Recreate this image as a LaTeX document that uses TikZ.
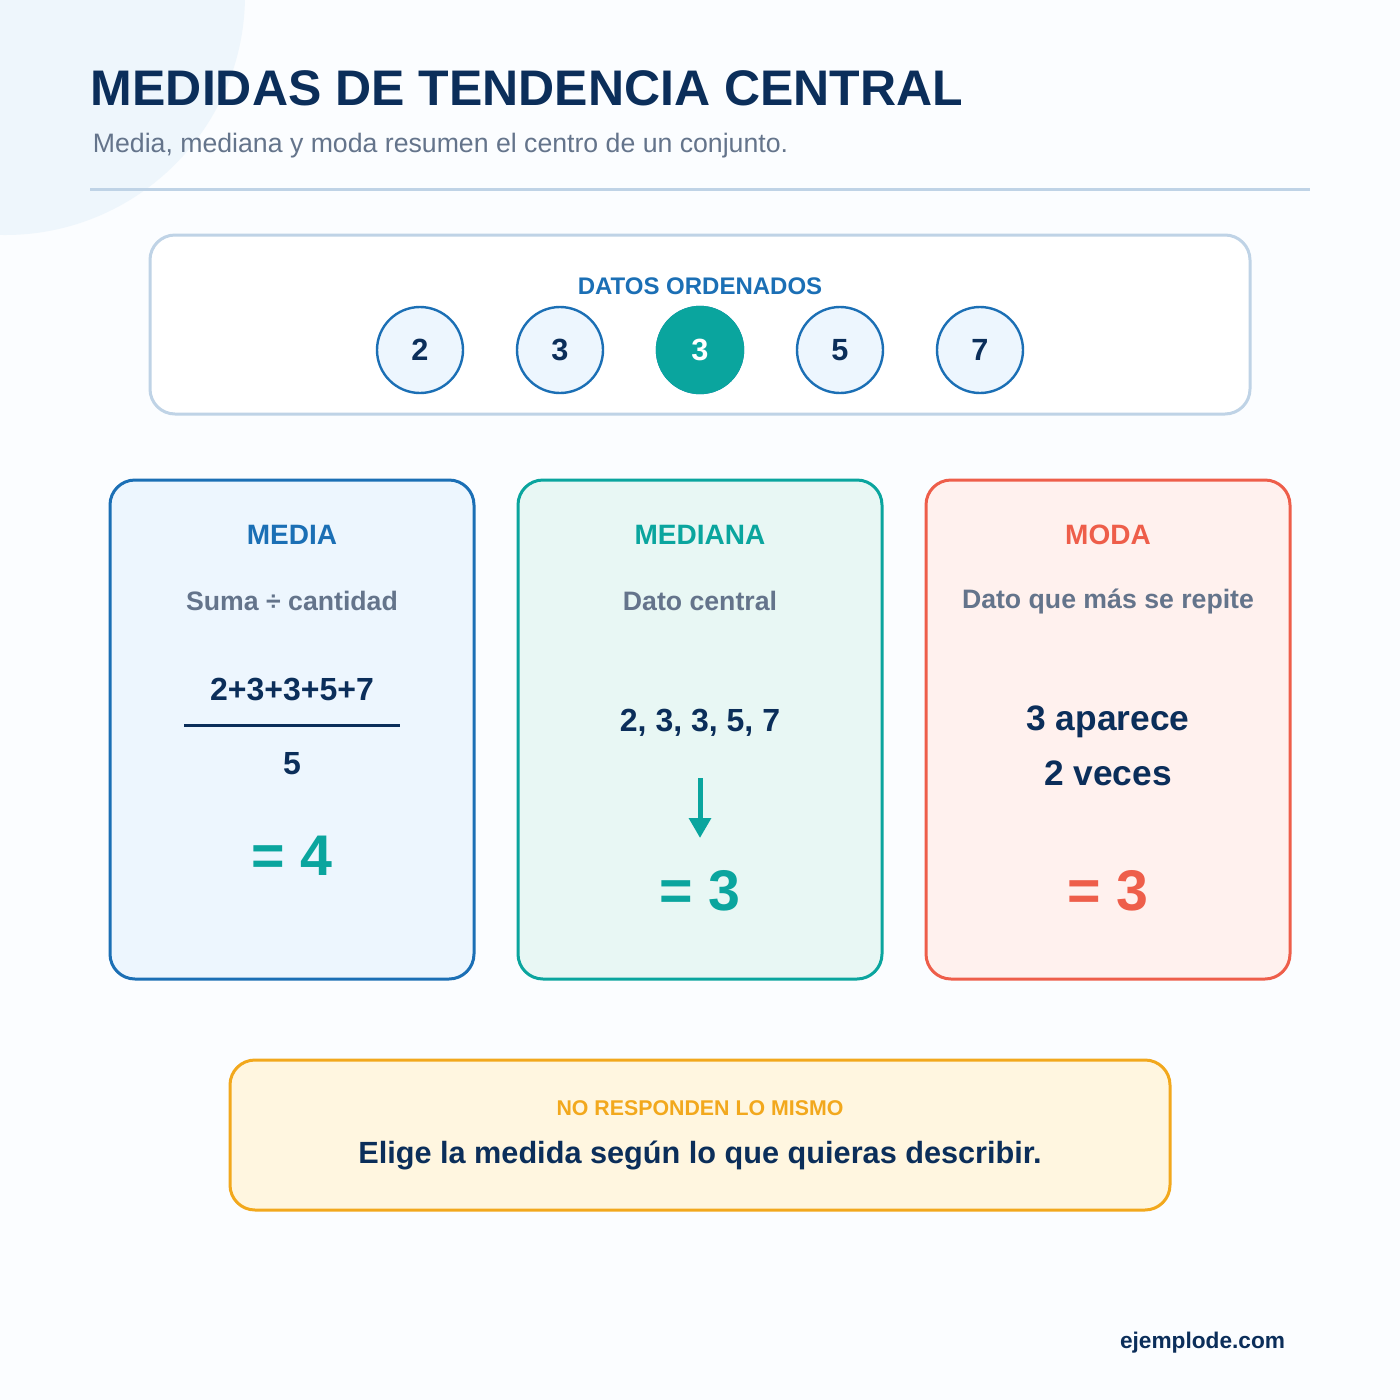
\documentclass[tikz,border=0pt]{standalone}
\usepackage{fontspec}
\setmainfont{Liberation Sans}
\usetikzlibrary{arrows.meta}
\definecolor{navy}{RGB}{11,46,90}
\definecolor{grayt}{RGB}{100,116,139}
\definecolor{rule}{RGB}{191,211,230}
\definecolor{blueS}{RGB}{27,111,181}
\definecolor{blueF}{RGB}{237,246,254}
\definecolor{tealS}{RGB}{10,165,158}
\definecolor{tealF}{RGB}{232,247,244}
\definecolor{redS}{RGB}{238,94,74}
\definecolor{redF}{RGB}{255,241,238}
\definecolor{oraS}{RGB}{242,168,29}
\definecolor{oraF}{RGB}{255,246,224}
\definecolor{fondo}{RGB}{251,253,255}
\definecolor{burbuja}{RGB}{238,246,252}
\tikzset{every picture/.style={line width=0.75pt},
  card/.style={rounded corners=18.75pt,line width=2.25pt},
  dato/.style={circle,minimum size=64.5pt,inner sep=0pt,draw=blueS,fill=blueF,line width=1.8pt,text=navy,font=\bfseries\fontsize{23}{27}\selectfont},
  ctitle/.style={font=\bfseries\fontsize{21}{25}\selectfont},
  csub/.style={text=grayt,font=\bfseries\fontsize{20}{24}\selectfont},
  cval/.style={text=navy,font=\bfseries\fontsize{24}{28}\selectfont},
  cres/.style={font=\bfseries\fontsize{43}{48}\selectfont}}
\begin{document}
\begin{tikzpicture}[x=0.75pt,y=0.75pt,yscale=-1,xscale=1]
\useasboundingbox (0,0) rectangle (1400,1400);
\fill[fondo] (0,0) rectangle (1400,1400);
\begin{scope}
\clip (0,0) rectangle (1400,1400);
\fill[burbuja] (5,-5) circle (240);
\end{scope}

% Title
\node (titulo) [anchor=west,text=navy,font=\bfseries\fontsize{37.5}{42}\selectfont] at (86,88) {MEDIDAS DE TENDENCIA CENTRAL};
\node (subt) [anchor=west,text=grayt,font=\fontsize{20}{24}\selectfont] at (88,146) {Media, mediana y moda resumen el centro de un conjunto.};
\draw [rule,line width=2.25pt] (90,189) -- (1310,189);

% Datos
\draw [card,draw=rule,fill=white] (150,235) rectangle (1250,414);
\node (datos) [text=blueS,font=\bfseries\fontsize{18}{22}\selectfont] at (700,286) {DATOS ORDENADOS};
\foreach \v [count=\i] in {2,3,3,5,7}
  \node (d\i) [dato] at (280+140*\i,350) {\v};
\node (d3) [dato,fill=tealS,draw=tealS,text=white] at (700,350) {3};

% Media
\draw [card,draw=blueS,fill=blueF] (110,480) rectangle (474,979);
\node (media) [ctitle,text=blueS] at (292,535) {MEDIA};
\node (mediasub) [csub] at (292,601) {Suma ÷ cantidad};
\node (suma) [cval] at (292,689) {2+3+3+5+7};
\draw [navy,line width=2.25pt] (184,725) -- (400,725);
\node (cant) [cval] at (292,764) {5};
\node (mediares) [cres,text=tealS] at (292,856) {= 4};

% Mediana
\draw [card,draw=tealS,fill=tealF] (518,480) rectangle (882,979);
\node (mediana) [ctitle,text=tealS] at (700,535) {MEDIANA};
\node (medianasub) [csub] at (700,601) {Dato central};
\node (lista) [cval] at (700,723) {2, 3, 3, 5, 7};
\coordinate (flA) at (700,778);
\coordinate (flB) at (700,838);
\draw [tealS,line width=3.75pt,-{Triangle[length=15pt,width=16pt]}] (flA) -- (flB);
\node (medianares) [cres,text=tealS] at (700,891) {= 3};

% Moda
\draw [card,draw=redS,fill=redF] (926,480) rectangle (1290,979);
\node (moda) [ctitle,text=redS] at (1108,535) {MODA};
\node (modasub) [csub] at (1108,601) {Dato que más se repite};
\node (aparece) [text=navy,align=center,font=\bfseries\fontsize{26.5}{41}\selectfont] at (1108,746) {3 aparece\\2 veces};
\node (modares) [cres,text=redS] at (1108,891) {= 3};

% Nota
\draw [card,draw=oraS,fill=oraF] (230,1060) rectangle (1170,1210);
\node (nota) [text=oraS,font=\bfseries\fontsize{16}{19}\selectfont] at (700,1108) {NO RESPONDEN LO MISMO};
\node (elige) [text=navy,font=\bfseries\fontsize{23}{27}\selectfont] at (700,1155) {Elige la medida según lo que quieras describir.};

\node (web) [anchor=east,text=navy,font=\bfseries\fontsize{17}{20}\selectfont] at (1290,1343) {ejemplode.com};
\end{tikzpicture}
\end{document}
